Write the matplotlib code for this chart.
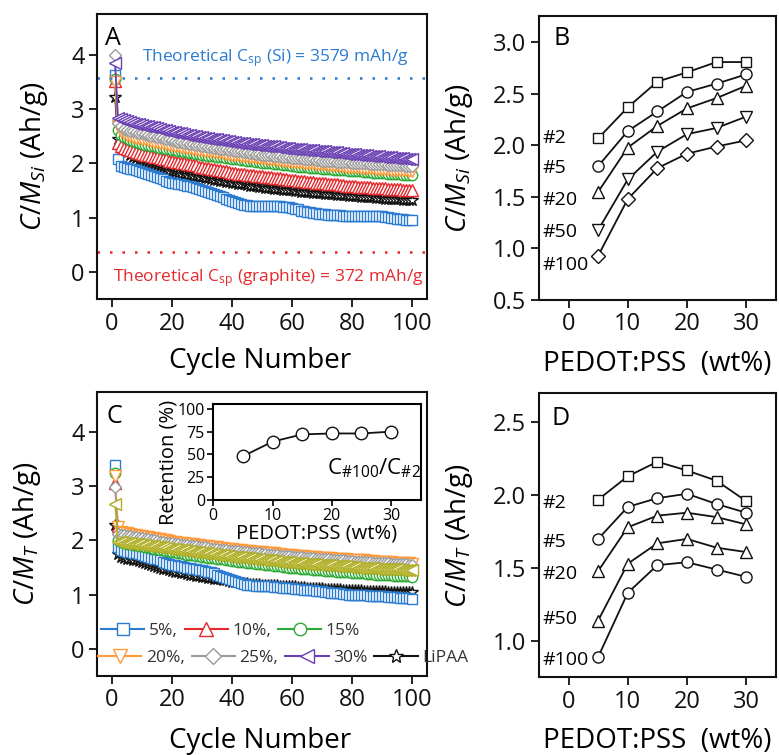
import matplotlib
matplotlib.use('Agg')
import matplotlib.pyplot as plt
from matplotlib.lines import Line2D

plt.rcParams['font.family'] = ['Open Sans', 'DejaVu Sans']
plt.rcParams['mathtext.fontset'] = 'custom'
plt.rcParams['mathtext.rm'] = 'Open Sans'
plt.rcParams['mathtext.it'] = 'Open Sans:italic'
plt.rcParams['mathtext.bf'] = 'Open Sans:bold'

# ---------------- data ----------------
cycles = list(range(1, 101))

# Panel A: C/M_Si (Ah/g) vs cycle
A_5 = [3.63, 2.08, 1.95, 1.93, 1.92, 1.90, 1.89, 1.87, 1.86, 1.84,
       1.83, 1.81, 1.79, 1.76, 1.74, 1.72, 1.71, 1.68, 1.66, 1.64,
       1.63, 1.62, 1.61, 1.60, 1.59, 1.58, 1.56, 1.55, 1.53, 1.51,
       1.49, 1.47, 1.45, 1.43, 1.41, 1.39, 1.37, 1.35, 1.33, 1.31,
       1.29, 1.27, 1.25, 1.24, 1.23, 1.22, 1.22, 1.22, 1.22, 1.22,
       1.22, 1.21, 1.21, 1.21, 1.21, 1.21, 1.20, 1.20, 1.19, 1.18,
       1.16, 1.15, 1.13, 1.12, 1.11, 1.10, 1.09, 1.08, 1.07, 1.06,
       1.06, 1.05, 1.05, 1.04, 1.04, 1.04, 1.03, 1.03, 1.03, 1.03,
       1.03, 1.03, 1.03, 1.03, 1.03, 1.02, 1.02, 1.02, 1.02, 1.02,
       1.01, 1.01, 1.00, 0.99, 0.98, 0.98, 0.97, 0.96, 0.96, 0.95]
A_10 = [3.52, 2.38, 2.31, 2.29, 2.27, 2.25, 2.23, 2.21, 2.19, 2.17,
        2.16, 2.15, 2.13, 2.12, 2.11, 2.09, 2.08, 2.07, 2.05, 2.04,
        2.03, 2.02, 2.01, 2.00, 1.99, 1.98, 1.97, 1.96, 1.94, 1.93,
        1.92, 1.91, 1.90, 1.89, 1.88, 1.87, 1.86, 1.85, 1.84, 1.83,
        1.82, 1.81, 1.81, 1.80, 1.79, 1.79, 1.78, 1.77, 1.77, 1.76,
        1.75, 1.75, 1.74, 1.73, 1.73, 1.72, 1.71, 1.71, 1.70, 1.69,
        1.69, 1.68, 1.67, 1.67, 1.66, 1.66, 1.65, 1.64, 1.64, 1.63,
        1.63, 1.62, 1.62, 1.61, 1.61, 1.60, 1.60, 1.59, 1.59, 1.58,
        1.58, 1.57, 1.57, 1.57, 1.56, 1.56, 1.55, 1.55, 1.55, 1.54,
        1.54, 1.53, 1.53, 1.53, 1.52, 1.52, 1.51, 1.51, 1.51, 1.50]
A_15 = [3.55, 2.62, 2.53, 2.49, 2.46, 2.43, 2.41, 2.39, 2.37, 2.35,
        2.34, 2.33, 2.32, 2.31, 2.30, 2.29, 2.28, 2.27, 2.26, 2.25,
        2.24, 2.23, 2.22, 2.21, 2.20, 2.19, 2.19, 2.18, 2.17, 2.16,
        2.15, 2.14, 2.14, 2.13, 2.12, 2.11, 2.11, 2.10, 2.09, 2.08,
        2.08, 2.07, 2.06, 2.06, 2.05, 2.04, 2.04, 2.03, 2.02, 2.01,
        2.01, 2.00, 2.00, 1.99, 1.98, 1.98, 1.97, 1.97, 1.96, 1.95,
        1.95, 1.94, 1.94, 1.93, 1.93, 1.92, 1.92, 1.91, 1.91, 1.90,
        1.90, 1.89, 1.89, 1.88, 1.88, 1.88, 1.87, 1.87, 1.86, 1.86,
        1.86, 1.85, 1.85, 1.84, 1.84, 1.84, 1.83, 1.83, 1.82, 1.82,
        1.82, 1.81, 1.81, 1.80, 1.80, 1.80, 1.79, 1.79, 1.78, 1.78]
A_20 = [3.50, 2.68, 2.60, 2.56, 2.53, 2.51, 2.49, 2.47, 2.46, 2.45,
        2.44, 2.42, 2.41, 2.40, 2.39, 2.38, 2.37, 2.36, 2.34, 2.33,
        2.32, 2.31, 2.30, 2.30, 2.29, 2.28, 2.27, 2.26, 2.25, 2.24,
        2.23, 2.23, 2.22, 2.21, 2.20, 2.20, 2.19, 2.18, 2.17, 2.16,
        2.16, 2.15, 2.14, 2.14, 2.13, 2.12, 2.12, 2.11, 2.10, 2.09,
        2.09, 2.08, 2.08, 2.07, 2.06, 2.06, 2.05, 2.05, 2.04, 2.03,
        2.03, 2.02, 2.02, 2.01, 2.01, 2.00, 2.00, 1.99, 1.99, 1.98,
        1.98, 1.97, 1.97, 1.96, 1.96, 1.95, 1.95, 1.94, 1.94, 1.93,
        1.93, 1.93, 1.92, 1.92, 1.91, 1.91, 1.91, 1.90, 1.90, 1.89,
        1.89, 1.89, 1.88, 1.88, 1.88, 1.87, 1.87, 1.87, 1.86, 1.86]
A_25 = [4.00, 2.75, 2.68, 2.64, 2.62, 2.60, 2.59, 2.58, 2.56, 2.55,
        2.54, 2.53, 2.51, 2.50, 2.49, 2.48, 2.46, 2.45, 2.44, 2.42,
        2.41, 2.40, 2.39, 2.38, 2.37, 2.36, 2.35, 2.34, 2.33, 2.32,
        2.31, 2.30, 2.30, 2.29, 2.28, 2.27, 2.26, 2.26, 2.25, 2.24,
        2.23, 2.22, 2.22, 2.21, 2.20, 2.19, 2.19, 2.18, 2.17, 2.16,
        2.16, 2.15, 2.15, 2.14, 2.13, 2.13, 2.12, 2.12, 2.11, 2.10,
        2.10, 2.09, 2.09, 2.08, 2.08, 2.07, 2.07, 2.06, 2.06, 2.05,
        2.05, 2.05, 2.04, 2.04, 2.03, 2.03, 2.03, 2.02, 2.02, 2.01,
        2.01, 2.01, 2.00, 2.00, 2.00, 1.99, 1.99, 1.99, 1.98, 1.98,
        1.98, 1.97, 1.97, 1.97, 1.96, 1.96, 1.96, 1.95, 1.95, 1.95]
A_30 = [3.85, 2.83, 2.81, 2.79, 2.77, 2.76, 2.75, 2.73, 2.72, 2.70,
        2.69, 2.68, 2.67, 2.66, 2.65, 2.64, 2.62, 2.61, 2.60, 2.58,
        2.57, 2.56, 2.55, 2.54, 2.53, 2.52, 2.51, 2.50, 2.49, 2.48,
        2.47, 2.46, 2.45, 2.44, 2.44, 2.43, 2.42, 2.41, 2.41, 2.40,
        2.39, 2.38, 2.38, 2.37, 2.36, 2.36, 2.35, 2.34, 2.34, 2.33,
        2.32, 2.32, 2.31, 2.31, 2.30, 2.30, 2.29, 2.28, 2.28, 2.27,
        2.27, 2.26, 2.26, 2.25, 2.25, 2.24, 2.24, 2.23, 2.23, 2.22,
        2.22, 2.21, 2.21, 2.20, 2.20, 2.19, 2.19, 2.18, 2.18, 2.17,
        2.17, 2.16, 2.16, 2.15, 2.15, 2.14, 2.14, 2.13, 2.13, 2.12,
        2.12, 2.11, 2.11, 2.10, 2.10, 2.09, 2.09, 2.08, 2.08, 2.07]
A_LiPAA = [3.23, 2.45, 2.30, 2.25, 2.20, 2.16, 2.12, 2.09, 2.06, 2.03,
           2.01, 1.99, 1.97, 1.95, 1.93, 1.91, 1.89, 1.88, 1.86, 1.85,
           1.84, 1.82, 1.81, 1.80, 1.79, 1.78, 1.77, 1.76, 1.75, 1.74,
           1.73, 1.72, 1.71, 1.70, 1.69, 1.68, 1.67, 1.66, 1.65, 1.64,
           1.63, 1.62, 1.61, 1.61, 1.60, 1.59, 1.58, 1.58, 1.57, 1.56,
           1.55, 1.55, 1.54, 1.53, 1.53, 1.52, 1.51, 1.51, 1.50, 1.50,
           1.49, 1.49, 1.48, 1.48, 1.47, 1.47, 1.46, 1.46, 1.45, 1.45,
           1.44, 1.44, 1.43, 1.43, 1.42, 1.42, 1.41, 1.41, 1.40, 1.40,
           1.39, 1.39, 1.38, 1.38, 1.37, 1.37, 1.37, 1.36, 1.36, 1.36,
           1.35, 1.35, 1.35, 1.34, 1.34, 1.34, 1.33, 1.33, 1.33, 1.32]

# Panel C: C/M_T (Ah/g) vs cycle
C_5 = [3.40, 1.88, 1.82, 1.80, 1.79, 1.78, 1.77, 1.76, 1.75, 1.74,
       1.72, 1.70, 1.68, 1.66, 1.65, 1.63, 1.61, 1.59, 1.57, 1.55,
       1.54, 1.53, 1.52, 1.51, 1.50, 1.49, 1.48, 1.47, 1.46, 1.45,
       1.44, 1.42, 1.41, 1.39, 1.37, 1.35, 1.33, 1.31, 1.29, 1.27,
       1.25, 1.23, 1.21, 1.19, 1.18, 1.17, 1.17, 1.16, 1.16, 1.16,
       1.15, 1.15, 1.15, 1.14, 1.14, 1.14, 1.13, 1.13, 1.12, 1.12,
       1.11, 1.10, 1.10, 1.09, 1.09, 1.08, 1.08, 1.07, 1.07, 1.06,
       1.05, 1.04, 1.03, 1.03, 1.02, 1.02, 1.01, 1.01, 1.00, 1.00,
       1.00, 0.99, 0.99, 0.99, 0.99, 0.98, 0.98, 0.98, 0.97, 0.97,
       0.97, 0.96, 0.96, 0.95, 0.95, 0.94, 0.94, 0.93, 0.93, 0.92]
C_10 = [3.06, 2.26, 2.13, 2.11, 2.10, 2.09, 2.07, 2.06, 2.05, 2.04,
        2.03, 2.02, 2.01, 2.00, 1.99, 1.98, 1.97, 1.96, 1.95, 1.94,
        1.93, 1.93, 1.92, 1.91, 1.90, 1.90, 1.89, 1.88, 1.87, 1.87,
        1.86, 1.85, 1.85, 1.84, 1.83, 1.83, 1.82, 1.81, 1.81, 1.80,
        1.79, 1.79, 1.78, 1.78, 1.77, 1.76, 1.76, 1.75, 1.75, 1.74,
        1.74, 1.73, 1.73, 1.72, 1.72, 1.71, 1.71, 1.70, 1.70, 1.69,
        1.69, 1.68, 1.68, 1.67, 1.67, 1.66, 1.66, 1.65, 1.65, 1.64,
        1.64, 1.63, 1.63, 1.63, 1.62, 1.62, 1.61, 1.61, 1.61, 1.60,
        1.60, 1.59, 1.59, 1.59, 1.58, 1.58, 1.58, 1.57, 1.57, 1.57,
        1.56, 1.56, 1.56, 1.55, 1.55, 1.55, 1.54, 1.54, 1.54, 1.53]
C_15 = [3.24, 2.00, 1.97, 1.95, 1.94, 1.93, 1.92, 1.91, 1.90, 1.89,
        1.88, 1.87, 1.86, 1.85, 1.84, 1.83, 1.82, 1.81, 1.80, 1.79,
        1.78, 1.77, 1.76, 1.75, 1.74, 1.74, 1.73, 1.72, 1.71, 1.70,
        1.69, 1.68, 1.68, 1.67, 1.66, 1.65, 1.65, 1.64, 1.63, 1.62,
        1.62, 1.61, 1.60, 1.60, 1.59, 1.58, 1.58, 1.57, 1.56, 1.56,
        1.55, 1.54, 1.54, 1.53, 1.53, 1.52, 1.51, 1.51, 1.50, 1.50,
        1.49, 1.49, 1.48, 1.48, 1.47, 1.47, 1.46, 1.46, 1.45, 1.45,
        1.44, 1.44, 1.43, 1.43, 1.42, 1.42, 1.42, 1.41, 1.41, 1.40,
        1.40, 1.40, 1.39, 1.39, 1.38, 1.38, 1.38, 1.37, 1.37, 1.37,
        1.36, 1.36, 1.36, 1.35, 1.35, 1.35, 1.34, 1.34, 1.34, 1.33]
C_20 = [3.19, 2.25, 2.16, 2.14, 2.13, 2.12, 2.11, 2.10, 2.09, 2.08,
        2.07, 2.06, 2.05, 2.04, 2.03, 2.02, 2.01, 2.00, 1.99, 1.98,
        1.97, 1.96, 1.96, 1.95, 1.94, 1.93, 1.93, 1.92, 1.91, 1.90,
        1.90, 1.89, 1.88, 1.88, 1.87, 1.86, 1.86, 1.85, 1.84, 1.84,
        1.83, 1.82, 1.82, 1.81, 1.81, 1.80, 1.79, 1.79, 1.78, 1.78,
        1.77, 1.77, 1.76, 1.76, 1.75, 1.75, 1.74, 1.74, 1.73, 1.73,
        1.72, 1.72, 1.71, 1.71, 1.70, 1.70, 1.69, 1.69, 1.68, 1.68,
        1.68, 1.67, 1.67, 1.66, 1.66, 1.66, 1.65, 1.65, 1.64, 1.64,
        1.64, 1.63, 1.63, 1.63, 1.62, 1.62, 1.62, 1.61, 1.61, 1.61,
        1.60, 1.60, 1.60, 1.59, 1.59, 1.59, 1.58, 1.58, 1.58, 1.57]
C_25 = [2.98, 2.12, 2.11, 2.10, 2.09, 2.08, 2.07, 2.06, 2.05, 2.04,
        2.03, 2.02, 2.01, 2.00, 1.99, 1.98, 1.97, 1.96, 1.96, 1.95,
        1.94, 1.93, 1.92, 1.92, 1.91, 1.90, 1.89, 1.89, 1.88, 1.87,
        1.87, 1.86, 1.85, 1.85, 1.84, 1.83, 1.83, 1.82, 1.81, 1.81,
        1.80, 1.80, 1.79, 1.78, 1.78, 1.77, 1.77, 1.76, 1.76, 1.75,
        1.75, 1.74, 1.74, 1.73, 1.73, 1.72, 1.72, 1.71, 1.71, 1.70,
        1.70, 1.69, 1.69, 1.68, 1.68, 1.67, 1.67, 1.66, 1.66, 1.66,
        1.65, 1.65, 1.64, 1.64, 1.64, 1.63, 1.63, 1.62, 1.62, 1.62,
        1.61, 1.61, 1.61, 1.60, 1.60, 1.60, 1.59, 1.59, 1.59, 1.58,
        1.58, 1.58, 1.57, 1.57, 1.57, 1.56, 1.56, 1.56, 1.55, 1.55]
C_30 = [2.68, 1.98, 1.97, 1.96, 1.95, 1.95, 1.94, 1.93, 1.93, 1.92,
        1.91, 1.90, 1.90, 1.89, 1.88, 1.88, 1.87, 1.86, 1.85, 1.84,
        1.84, 1.83, 1.82, 1.82, 1.81, 1.80, 1.79, 1.79, 1.78, 1.77,
        1.77, 1.76, 1.75, 1.75, 1.74, 1.73, 1.73, 1.72, 1.71, 1.70,
        1.70, 1.69, 1.69, 1.68, 1.67, 1.67, 1.66, 1.66, 1.65, 1.64,
        1.64, 1.63, 1.63, 1.62, 1.62, 1.61, 1.61, 1.60, 1.60, 1.59,
        1.59, 1.58, 1.58, 1.57, 1.57, 1.56, 1.56, 1.56, 1.55, 1.55,
        1.54, 1.54, 1.54, 1.53, 1.53, 1.52, 1.52, 1.52, 1.51, 1.51,
        1.51, 1.50, 1.50, 1.50, 1.49, 1.49, 1.49, 1.48, 1.48, 1.48,
        1.48, 1.47, 1.47, 1.47, 1.47, 1.46, 1.46, 1.46, 1.46, 1.45]
C_LiPAA = [2.28, 1.75, 1.70, 1.68, 1.66, 1.65, 1.64, 1.63, 1.62, 1.60,
           1.58, 1.56, 1.54, 1.53, 1.51, 1.50, 1.48, 1.47, 1.45, 1.43,
           1.42, 1.41, 1.40, 1.39, 1.38, 1.37, 1.36, 1.35, 1.34, 1.33,
           1.32, 1.31, 1.30, 1.29, 1.28, 1.28, 1.27, 1.26, 1.25, 1.24,
           1.23, 1.23, 1.22, 1.21, 1.21, 1.20, 1.20, 1.19, 1.19, 1.18,
           1.18, 1.18, 1.17, 1.17, 1.17, 1.16, 1.16, 1.16, 1.15, 1.15,
           1.15, 1.14, 1.14, 1.14, 1.13, 1.13, 1.13, 1.12, 1.12, 1.12,
           1.11, 1.11, 1.11, 1.10, 1.10, 1.10, 1.09, 1.09, 1.09, 1.09,
           1.08, 1.08, 1.08, 1.07, 1.07, 1.07, 1.07, 1.06, 1.06, 1.06,
           1.06, 1.05, 1.05, 1.05, 1.05, 1.04, 1.04, 1.04, 1.04, 1.04]

# Panels B / D: capacity at selected cycles vs PEDOT:PSS content
pedot = [5, 10, 15, 20, 25, 30]
cycle_labels = ['#2', '#5', '#20', '#50', '#100']
B_vals = {
    '#2':   [2.07, 2.37, 2.62, 2.71, 2.81, 2.81],
    '#5':   [1.80, 2.14, 2.33, 2.52, 2.60, 2.69],
    '#20':  [1.55, 1.98, 2.19, 2.36, 2.46, 2.58],
    '#50':  [1.18, 1.67, 1.94, 2.11, 2.17, 2.28],
    '#100': [0.93, 1.48, 1.78, 1.92, 1.99, 2.05],
}
B_label_y = [2.07, 1.78, 1.47, 1.16, 0.84]
D_vals = {
    '#2':   [1.97, 2.13, 2.23, 2.17, 2.10, 1.96],
    '#5':   [1.70, 1.92, 1.98, 2.01, 1.94, 1.88],
    '#20':  [1.48, 1.78, 1.86, 1.88, 1.85, 1.80],
    '#50':  [1.14, 1.53, 1.67, 1.70, 1.64, 1.61],
    '#100': [0.89, 1.33, 1.52, 1.54, 1.49, 1.44],
}
D_label_y = [1.95, 1.68, 1.46, 1.15, 0.87]

# Inset: retention C#100/C#2 (%)
retention = [48, 64, 72, 73, 73, 75]

theo_si = 3.579
theo_graphite = 0.372

# ---------------- style ----------------
BLUE = '#2b7bd0'
RED = '#e5282c'
GREEN = '#2ea836'
ORANGE = '#ff9a3c'
GRAY = '#9a9a9a'
PURPLE = '#6a3fb3'
OLIVE = '#b0ae22'
BLACK = '#111111'

fig = plt.figure(figsize=(7.79, 7.55), dpi=100)
W, H = 779.0, 755.0


def box(l, t, r, b):
    return [l / W, 1 - b / H, (r - l) / W, (b - t) / H]


axA = fig.add_axes(box(97, 14, 427, 299))
axB = fig.add_axes(box(539, 15.7, 775.7, 300))
axC = fig.add_axes(box(97, 391.7, 427, 675.7))
axD = fig.add_axes(box(539, 393.3, 775.7, 677.3))

TICKFS = 17
LABFS = 20


def style(ax):
    for s in ax.spines.values():
        s.set_linewidth(1.5)
        s.set_color('#111111')
    ax.tick_params(direction='out', length=6, width=1.3, labelsize=TICKFS,
                   pad=3, colors='#111111', top=False, right=False)


series_A = [(A_LiPAA, BLACK, '*', 9), (A_5, BLUE, 's', 7), (A_10, RED, '^', 8),
            (A_15, GREEN, 'o', 7.5), (A_20, ORANGE, 'v', 8), (A_25, GRAY, 'D', 6.5),
            (A_30, PURPLE, '<', 8)]
for vals, col, mk, ms in series_A:
    axA.plot(cycles, vals, color=col, marker=mk, ms=ms, mfc='white', mec=col,
             mew=1.0, lw=1.2)

axA.axhline(theo_si, color=BLUE, lw=1.8, ls=(0, (1, 4)))
axA.axhline(theo_graphite, color=RED, lw=1.8, ls=(0, (1, 4)))
axA.text(0.135, 0.833, r'Theoretical C$_{\mathrm{sp}}$ (Si) = 3579 mAh/g',
         transform=axA.transAxes, color=BLUE, fontsize=12.5, va='baseline')
axA.text(0.049, 0.061, r'Theoretical C$_{\mathrm{sp}}$ (graphite) = 372 mAh/g',
         transform=axA.transAxes, color=RED, fontsize=12.5, va='baseline')
axA.set_xlim(-5, 105)
axA.set_ylim(-0.5, 4.75)
axA.set_xticks([0, 20, 40, 60, 80, 100])
axA.set_yticks([0, 1, 2, 3, 4])
style(axA)
axA.set_xlabel('Cycle Number', fontsize=LABFS)
axA.set_ylabel(r'$C/M_{Si}$ (Ah/g)', fontsize=LABFS)
axA.yaxis.set_label_coords(-0.142, 0.5)
axA.xaxis.set_label_coords(0.494, -0.17)
axA.text(0.024, 0.915, 'A', transform=axA.transAxes, fontsize=18, va='center')

series_C = [(C_LiPAA, BLACK, '*', 9), (C_5, BLUE, 's', 7), (C_10, RED, '^', 8),
            (C_15, GREEN, 'o', 7.5), (C_20, ORANGE, 'v', 8), (C_25, GRAY, 'D', 6.5),
            (C_30, OLIVE, '<', 8)]
for vals, col, mk, ms in series_C:
    axC.plot(cycles, vals, color=col, marker=mk, ms=ms, mfc='white', mec=col,
             mew=1.0, lw=1.2)
axC.set_xlim(-5, 105)
axC.set_ylim(-0.5, 4.75)
axC.set_xticks([0, 20, 40, 60, 80, 100])
axC.set_yticks([0, 1, 2, 3, 4])
style(axC)
axC.set_xlabel('Cycle Number', fontsize=LABFS)
axC.set_ylabel(r'$C/M_{T}$ (Ah/g)', fontsize=LABFS)
axC.yaxis.set_label_coords(-0.165, 0.5)
axC.xaxis.set_label_coords(0.494, -0.18)
axC.text(0.03, 0.912, 'C', transform=axC.transAxes, fontsize=18, va='center')


def h(col, mk, ms=9):
    return Line2D([], [], color=col, marker=mk, ms=ms, mfc='white', mec=col,
                  mew=1.0, lw=1.5)


leg_kw = dict(frameon=False, fontsize=12.5, handlelength=2.5, handletextpad=0.25,
              columnspacing=0.4, borderpad=0, borderaxespad=0, labelcolor='#333333')
leg1 = axC.legend([h(BLUE, 's'), h(RED, '^', 10), h(GREEN, 'o')],
                  ['5%,', '10%,', '15%'], ncol=3, loc='center left',
                  bbox_to_anchor=(0.012, 0.158), **leg_kw)
axC.add_artist(leg1)
axC.legend([h(ORANGE, 'v', 10), h(GRAY, 'D', 8), h(PURPLE, '<', 10), h(BLACK, '*', 10)],
           ['20%,', '25%,', '30%', 'LiPAA'], ncol=4, loc='center left',
           bbox_to_anchor=(0.003, 0.062), **leg_kw)

# inset
axI = fig.add_axes(box(213.3, 404.3, 420.7, 500))
axI.plot(pedot, retention, color=BLACK, marker='o', ms=9, mfc='white', mec=BLACK,
         mew=1.0, lw=1.3)
axI.set_xlim(0, 35)
axI.set_ylim(0, 105)
axI.set_xticks([0, 10, 20, 30])
axI.set_yticks([0, 25, 50, 75, 100])
for s in axI.spines.values():
    s.set_linewidth(1.5)
axI.tick_params(direction='out', length=4, width=1.2, labelsize=11.5, pad=2,
                top=False, right=False)
axI.set_xlabel('PEDOT:PSS (wt%)', fontsize=14.5)
axI.set_ylabel('Retention (%)', fontsize=14.5)
axI.xaxis.set_label_coords(0.5, -0.25)
axI.yaxis.set_label_coords(-0.17, 0.39)
axI.text(0.547, 0.33, r'C$_{\#100}$/C$_{\#2}$', transform=axI.transAxes,
         fontsize=16, va='center')

markers_BD = ['s', 'o', '^', 'v', 'D']
ms_BD = [6.5, 8, 9, 9, 7]
for key, mk, ms in zip(cycle_labels, markers_BD, ms_BD):
    axB.plot(pedot, B_vals[key], color=BLACK, marker=mk, ms=ms, mfc='white',
             mec=BLACK, mew=1.0, lw=1.3)
for lab, yv in zip(cycle_labels, B_label_y):
    axB.text(-4.4, yv, lab, fontsize=14, va='center', ha='left')
axB.set_xlim(-5, 35)
axB.set_ylim(0.5, 3.26)
axB.set_xticks([0, 10, 20, 30])
axB.set_yticks([0.5, 1.0, 1.5, 2.0, 2.5, 3.0])
axB.set_yticklabels(['0.5', '1.0', '1.5', '2.0', '2.5', '3.0'])
style(axB)
axB.set_xlabel('PEDOT:PSS  (wt%)', fontsize=LABFS)
axB.set_ylabel(r'$C/M_{Si}$ (Ah/g)', fontsize=LABFS)
axB.yaxis.set_label_coords(-0.27, 0.5)
axB.xaxis.set_label_coords(0.5, -0.175)
axB.text(0.06, 0.92, 'B', transform=axB.transAxes, fontsize=18, va='center')

markers_D = ['s', 'o', '^', '^', 'o']
ms_D = [6.5, 8, 9, 9, 8]
for key, mk, ms in zip(cycle_labels, markers_D, ms_D):
    axD.plot(pedot, D_vals[key], color=BLACK, marker=mk, ms=ms, mfc='white',
             mec=BLACK, mew=1.0, lw=1.3)
for lab, yv in zip(cycle_labels, D_label_y):
    axD.text(-4.4, yv, lab, fontsize=14, va='center', ha='left')
axD.set_xlim(-5, 35)
axD.set_ylim(0.75, 2.70)
axD.set_xticks([0, 10, 20, 30])
axD.set_yticks([1.0, 1.5, 2.0, 2.5])
axD.set_yticklabels(['1.0', '1.5', '2.0', '2.5'])
style(axD)
axD.set_xlabel('PEDOT:PSS  (wt%)', fontsize=LABFS)
axD.set_ylabel(r'$C/M_{T}$ (Ah/g)', fontsize=LABFS)
axD.yaxis.set_label_coords(-0.27, 0.5)
axD.xaxis.set_label_coords(0.5, -0.175)
axD.text(0.054, 0.913, 'D', transform=axD.transAxes, fontsize=18, va='center')

fig.savefig('out.png', dpi=100)
